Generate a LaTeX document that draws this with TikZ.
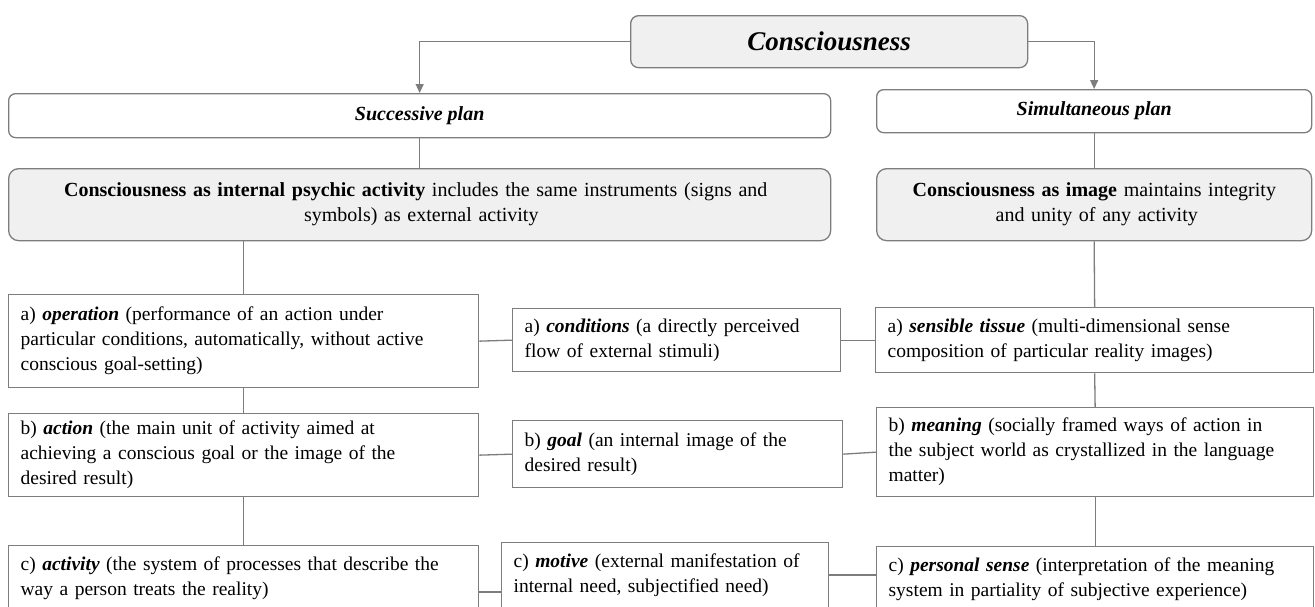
\documentclass[tikz,border=0pt]{standalone}
\usepackage{fontspec}
\setmainfont{Liberation Serif}
\usetikzlibrary{arrows.meta}

\definecolor{edge}{RGB}{125,125,125}
\definecolor{shade}{RGB}{240,240,240}

% bold italic key term
\newcommand\kwd[1]{\textbf{\textit{#1}}}
% one line of text spread to a given width
\newcommand\jl[2]{\makebox[#1pt][s]{#2}}

\tikzset{
  card/.style={draw=edge, line width=1.3pt, rectangle, anchor=north west,
    inner xsep=12pt, inner ysep=0pt, align=left,
    font=\fontsize{19.5}{25}\selectfont},
  headbox/.style={draw=edge, line width=1.3pt, rounded corners=7pt,
    anchor=north west, inner sep=0pt, align=center,
    font=\fontsize{20}{25}\selectfont},
  greybox/.style={headbox, fill=shade, rounded corners=10pt},
  link/.style={draw=edge, line width=1.3pt},
  arr/.style={link, -{Triangle[width=8pt,length=9pt]}},
}

\begin{document}
\begin{tikzpicture}[x=1pt,y=-1pt]
\useasboundingbox (0,0) rectangle (1315,606);
\clip (0,0) rectangle (1315,606);
\fill[white] (0,0) rectangle (1315,606);

% top of the hierarchy
\node[greybox, rounded corners=8pt, minimum width=397pt, minimum height=52pt,
      font=\fontsize{27}{30}\selectfont] (top) at (630,15) {\kwd{Consciousness}};

% the two plans
\node[headbox, minimum width=822pt, minimum height=44pt] (succ) at (8,93)
  {\kwd{Successive plan}};
\node[headbox, minimum width=435pt, minimum height=43pt] (simul) at (876,89)
  {\kwd{Simultaneous plan}};

\node[greybox, text width=822pt, minimum height=72pt] (inner) at (8,168)
  {\jl{711}{\textbf{Consciousness as internal psychic activity} includes the same instruments (signs and}\\
   \jl{231}{symbols) as external activity}};
\node[greybox, text width=435pt, minimum height=72pt] (image) at (876,168)
  {\jl{363}{\textbf{Consciousness as image} maintains integrity}\\
   \jl{197}{and unity of any activity}};

% successive plan: left column
\node[card, text width=446pt, minimum height=93pt] (oper) at (8,294)
  {\jl{369}{a) \kwd{operation} (performance of an action under}\\
   \jl{417}{particular conditions, automatically, without active}\\
   \jl{182}{conscious goal-setting)}};
\node[card, text width=446pt, minimum height=83pt] (act) at (8,413)
  {\jl{361}{b) \kwd{action} (the main unit of activity aimed at}\\
   \jl{382}{achieving a conscious goal or the image of the}\\
   \jl{110}{desired result)}};
\node[card, text width=446pt, minimum height=66pt] (activ) at (8,545)
  {\jl{428}{c) \kwd{activity} (the system of processes that describe the}\\
   \jl{249}{way a person treats the reality)}};

% middle column
\node[card, text width=304pt, minimum height=63pt] (cond) at (512,308)
  {\jl{276}{a) \kwd{conditions} (a directly perceived}\\
   \jl{197}{flow of external stimuli)}};
\node[card, text width=306pt, minimum height=67pt] (goal) at (512,420)
  {\jl{265}{b) \kwd{goal} (an internal image of the}\\
   \jl{111}{desired result)}};
\node[card, text width=303pt, minimum height=66pt] (motive) at (501,542)
  {\jl{297}{c) \kwd{motive} (external manifestation of}\\
   \jl{264}{internal need, subjectified need)}};

% simultaneous plan: right column
\node[card, text width=414pt, minimum height=65pt] (tissue) at (875,307)
  {\jl{352}{a) \kwd{sensible tissue} (multi-dimensional sense}\\
   \jl{332}{composition of particular reality images)}};
\node[card, text width=413pt, minimum height=89pt] (mean) at (876,407)
  {\jl{381}{b) \kwd{meaning} (socially framed ways of action in}\\
   \jl{392}{the subject world as crystallized in the language}\\
   \jl{56}{matter)}};
\node[card, text width=413pt, minimum height=66pt] (pers) at (876,546)
  {\jl{393}{c) \kwd{personal sense} (interpretation of the meaning}\\
   \jl{368}{system in partiality of subjective experience)}};

% arrows from the top box
\draw[arr] (top.west) -| (succ.north);
\draw[arr] (top.east) -| (simul.north);

% vertical links
\draw[link] (succ.south) -- (inner.north);
\draw[link] (simul.south) -- (image.north);
\draw[link] (inner.south -| oper.north) -- (oper.north);
\draw[link] (image.south) -- (tissue.north);
\draw[link] (oper.south) -- (act.north);
\draw[link] (act.south) -- (activ.north);
\draw[link] (tissue.south) -- (mean.north);
\draw[link] (mean.south) -- (pers.north);

% horizontal links
\draw[link] (oper.east) -- (cond.west);
\draw[link] (cond.east) -- (tissue.west);
\draw[link] (act.east) -- (goal.west);
\draw[link] (goal.east) -- (mean.west);
\draw[link] ([yshift=-47pt]activ.north east) -- ([yshift=-50pt]motive.north west);
\draw[link] ([yshift=-33pt]motive.north east) -- ([yshift=-29pt]pers.north west);
\end{tikzpicture}
\end{document}
